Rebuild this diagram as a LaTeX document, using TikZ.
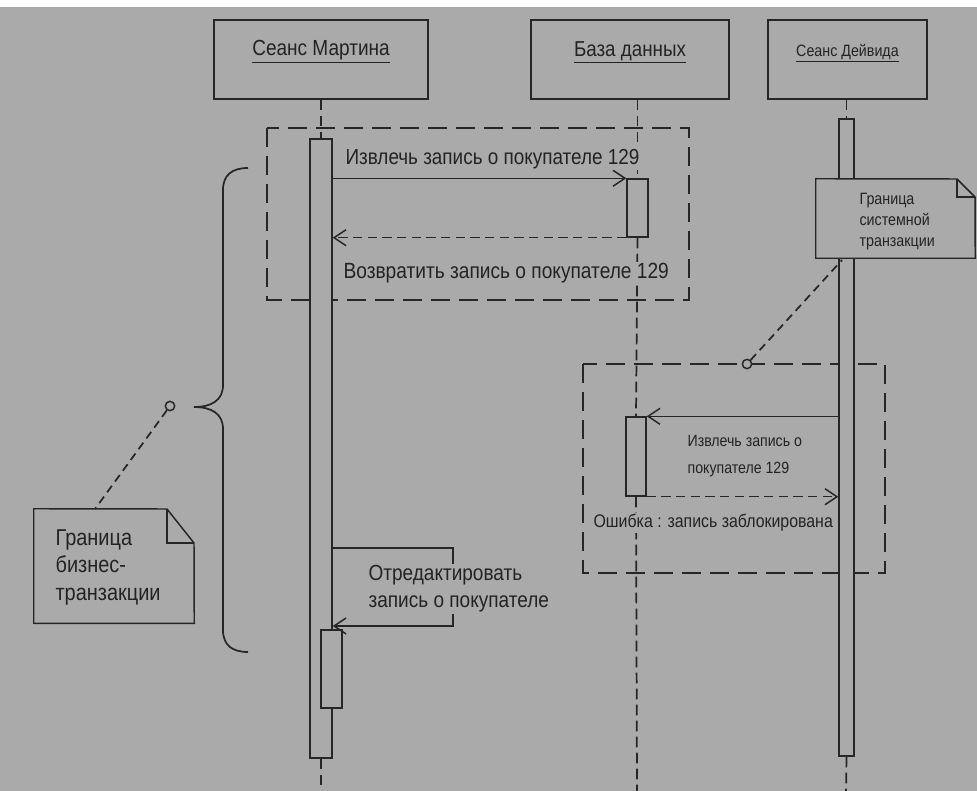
\documentclass[tikz,border=0pt]{standalone}
\usepackage{fontspec}
\setmainfont{Liberation Sans}[FakeStretch=0.87]
\usetikzlibrary{fit,arrows.meta}
\definecolor{bg}{RGB}{170,170,170}
\definecolor{ink}{RGB}{38,38,38}
\definecolor{txt}{RGB}{35,35,35}
\begin{document}
\begin{tikzpicture}[x=0.75pt,y=-0.75pt,
  actor/.style={draw=ink, line width=1.2pt, inner sep=0pt, text=txt},
  bar/.style={draw=ink, line width=1.1pt, fill=bg, inner sep=0pt},
  frame/.style={draw=ink, line width=1.3pt, dash pattern=on 14pt off 7pt},
  life/.style={draw=ink, line width=1.3pt, dash pattern=on 8pt off 4pt},
  msg/.style={draw=ink, line width=1.1pt, -{Straight Barb[length=9pt,width=12pt]}},
  ret/.style={msg, dash pattern=on 7pt off 4pt},
  lbl/.style={text=txt, fill=bg, inner sep=1pt, anchor=west},
  note/.style={draw=ink, line width=1.1pt, fill=bg, line join=miter},
  link/.style={draw=ink, line width=1.3pt, dash pattern=on 6pt off 4pt},
  anchorpt/.style={draw=ink, line width=1.1pt, fill=bg, circle, inner sep=0pt, minimum size=7pt}
]
\fill[white] (0,0) rectangle (977,791);
\fill[bg] (0,7) rectangle (977,791);
\useasboundingbox (0,0) rectangle (977,791);

% actors
\node[actor, fit={(214,20) (428,99)}, font=\fontsize{16.4}{18}\selectfont] (martin) {\underline{Сеанс Мартина}};
\node[actor, fit={(531,20) (729,99)}, font=\fontsize{16.2}{18}\selectfont] (db) {\underline{База данных}};
\node[actor, fit={(768,20) (927,99)}, font=\fontsize{12.3}{14}\selectfont] (david) {\underline{Сеанс Дейвида}};

% end coordinates of lifelines
\coordinate (mend) at (321,791);
\coordinate (dbend) at (637,791);
\coordinate (dend) at (846,791);

% frames
\draw[frame] (267,128) rectangle (689,300);
\draw[frame] (583,364) rectangle (885,573);

% activation bars
\node[bar, fit={(310,139) (332,758)}] (mbar) {};
\node[bar, fit={(627,179) (648,237)}] (dbact1) {};
\node[bar, fit={(626,417) (646,496)}] (dbact2) {};
\node[bar, fit={(839,119) (854,756)}] (dbar) {};

% lifelines
\draw[life] (martin.south) -- (mbar.north);
\draw[life] (mbar.south) -- (mend);
\draw[life] (dbact1.north |- db.south) -- (dbact1.north);
\draw[life] (dbact1.south) -- (dbact2.north);
\draw[life] (dbact2.south) -- (dbend);
\draw[life] (dbar.north |- david.south) -- (dbar.north);
\draw[life] (dbar.south) -- (dend);

% redraw bars on top of lifelines
\node[bar, fit={(310,139) (332,758)}] {};
\node[bar, fit={(627,179) (648,237)}] {};
\node[bar, fit={(626,417) (646,496)}] {};
\node[bar, fit={(839,119) (854,756)}] {};
\node[bar, fit={(321,630) (342,708)}] (mnest) {};

% messages
\draw[msg] (mbar.east |- dbact1.north) -- (dbact1.north west);
\draw[ret] (dbact1.south west) -- (mbar.east |- dbact1.south);
\draw[msg] (dbar.west |- dbact2.north) -- (dbact2.north east);
\draw[ret] (dbact2.south east) -- (dbar.west |- dbact2.south);
\coordinate (selfA) at (mbar.east |- 0,548);
\coordinate (selfB) at (mbar.east |- 0,626);
\draw[msg] (selfA) -- (453,548) -- (453,626) -- (selfB);

% message labels
\node[lbl, font=\fontsize{16.3}{18}\selectfont] (l1) at (344,159) {Извлечь запись о покупателе 129};
\node[lbl, font=\fontsize{16.5}{18}\selectfont] (l2) at (342,273) {Возвратить запись о покупателе 129};
\node[lbl, anchor=north west, align=left, font=\fontsize{12.2}{20.25}\selectfont] (l3) at (686,434) {Извлечь запись о\\покупателе 129};
\node[lbl, font=\fontsize{13.7}{16}\selectfont] (l4) at (592,523) {Ошибка : запись заблокирована};
\node[lbl, anchor=north west, align=left, font=\fontsize{16.4}{20.25}\selectfont] (l5) at (367,564) {Отредактировать\\запись о покупателе};

% brace
\draw[ink, line width=1.3pt] (248,168) .. controls (232,168) and (223,175) .. (223,190) -- (223,385) .. controls (223,400) and (212,407) .. (194,407) .. controls (212,407) and (223,414) .. (223,429) -- (223,630) .. controls (223,645) and (232,652) .. (248,652);
\coordinate (btip) at (194,407);

% business note
\node[inner sep=0pt, fit={(34,509) (194,623)}] (bnote) {};
\draw[note] (bnote.north west) -- (167,509) -- (194,543) -- (bnote.south east) -- (bnote.south west) -- cycle;
\draw[note, fill=none] (167,509) -- (167,543) -- (194,543);
\node[lbl, anchor=north west, align=left, font=\fontsize{17.2}{20.6}\selectfont] at (54,528) {Граница\\бизнес-\\транзакции};
\node[anchorpt] (bc) at (170,406) {};
\coordinate (bn) at (95,509);
\draw[link] (bc) -- (bn);

% system note
\node[inner sep=0pt, fit={(816,179) (975,258)}] (snote) {};
\draw[note] (snote.north west) -- (957,179) -- (975,197) -- (snote.south east) -- (snote.south west) -- cycle;
\draw[note, fill=none] (957,179) -- (957,197) -- (975,197);
\node[lbl, anchor=north west, align=left, font=\fontsize{12.3}{15.75}\selectfont] at (858,192) {Граница\\системной\\транзакции};
\node[anchorpt] (sc) at (747,364) {};
\coordinate (sn) at (842,260);
\draw[link] (sc) -- (sn);
\end{tikzpicture}
\end{document}
